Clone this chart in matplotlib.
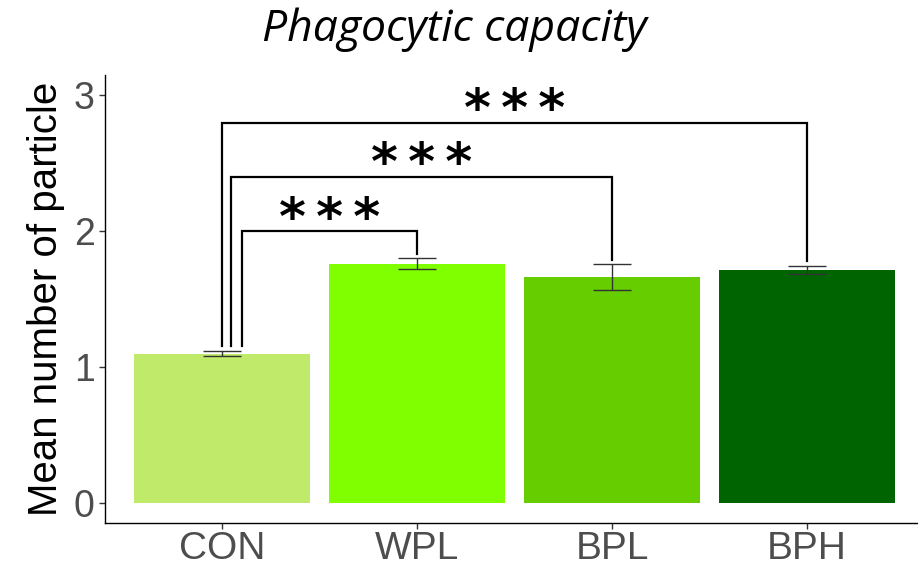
import matplotlib
matplotlib.use("Agg")
import matplotlib.pyplot as plt

# groups, means and standard errors
groups = ["CON", "WPL", "BPL", "BPH"]
means = [1.10, 1.76, 1.665, 1.715]
errors = [0.018, 0.04, 0.097, 0.033]
bar_colors = ["#C0EB6A", "#80FF00", "#66CD00", "#006400"]

# significance brackets: (left group, right group, height, left leg offset, label)
comparisons = [
    (0, 1, 2.0, 0.10, "***"),
    (0, 2, 2.4, 0.045, "***"),
    (0, 3, 2.8, 0.0, "***"),
]

plt.rcParams["font.family"] = ["Liberation Sans", "DejaVu Sans"]

fig = plt.figure(figsize=(9.18, 5.68), dpi=100)
ax = fig.add_axes([105 / 918, 45 / 568, 819 / 918, 448 / 568])

x = [i + 1 for i in range(len(groups))]
ax.bar(x, means, width=0.9, color=bar_colors, zorder=2)
ax.errorbar(x, means, yerr=errors, fmt="none", ecolor="#333333",
            elinewidth=1.0, capsize=14, capthick=1.0, zorder=3)

for left, right, h, off, label in comparisons:
    x0 = x[left] + off
    x1 = x[right]
    y0 = means[left] + errors[left] + 0.035
    y1 = means[right] + errors[right] + 0.03
    ax.plot([x0, x0, x1, x1], [y0, h, h, y1], color="black", lw=1.6,
            solid_joinstyle="miter", zorder=4)
    # thin spaces between the stars
    ax.text((x0 + x1) / 2, h + 0.085, "\u2009".join(label), ha="center", va="center",
            fontsize=37, fontweight="bold", family="DejaVu Sans", color="black")

ax.set_xlim(0.4, 4.6)
ax.set_ylim(-0.147, 3.15)
ax.set_xticks(x)
ax.set_xticklabels(groups)
ax.set_yticks([0, 1, 2, 3])
ax.tick_params(axis="y", labelsize=27)
ax.tick_params(axis="x", labelsize=28, pad=1.5)
ax.tick_params(axis="both", labelcolor="#4D4D4D", color="#333333", length=4, width=1)
for side in ["top", "right"]:
    ax.spines[side].set_visible(False)
for side in ["left", "bottom"]:
    ax.spines[side].set_color("black")
    ax.spines[side].set_linewidth(1.0)

ax.set_ylabel("Mean number of particle", fontsize=29, color="black", labelpad=6)
fig.text(454 / 918, 1 - 30 / 568, "Phagocytic capacity", ha="center", va="center",
         fontsize=32, style="italic", family="Open Sans", color="black")

fig.savefig("out.png", dpi=100, facecolor="white")
